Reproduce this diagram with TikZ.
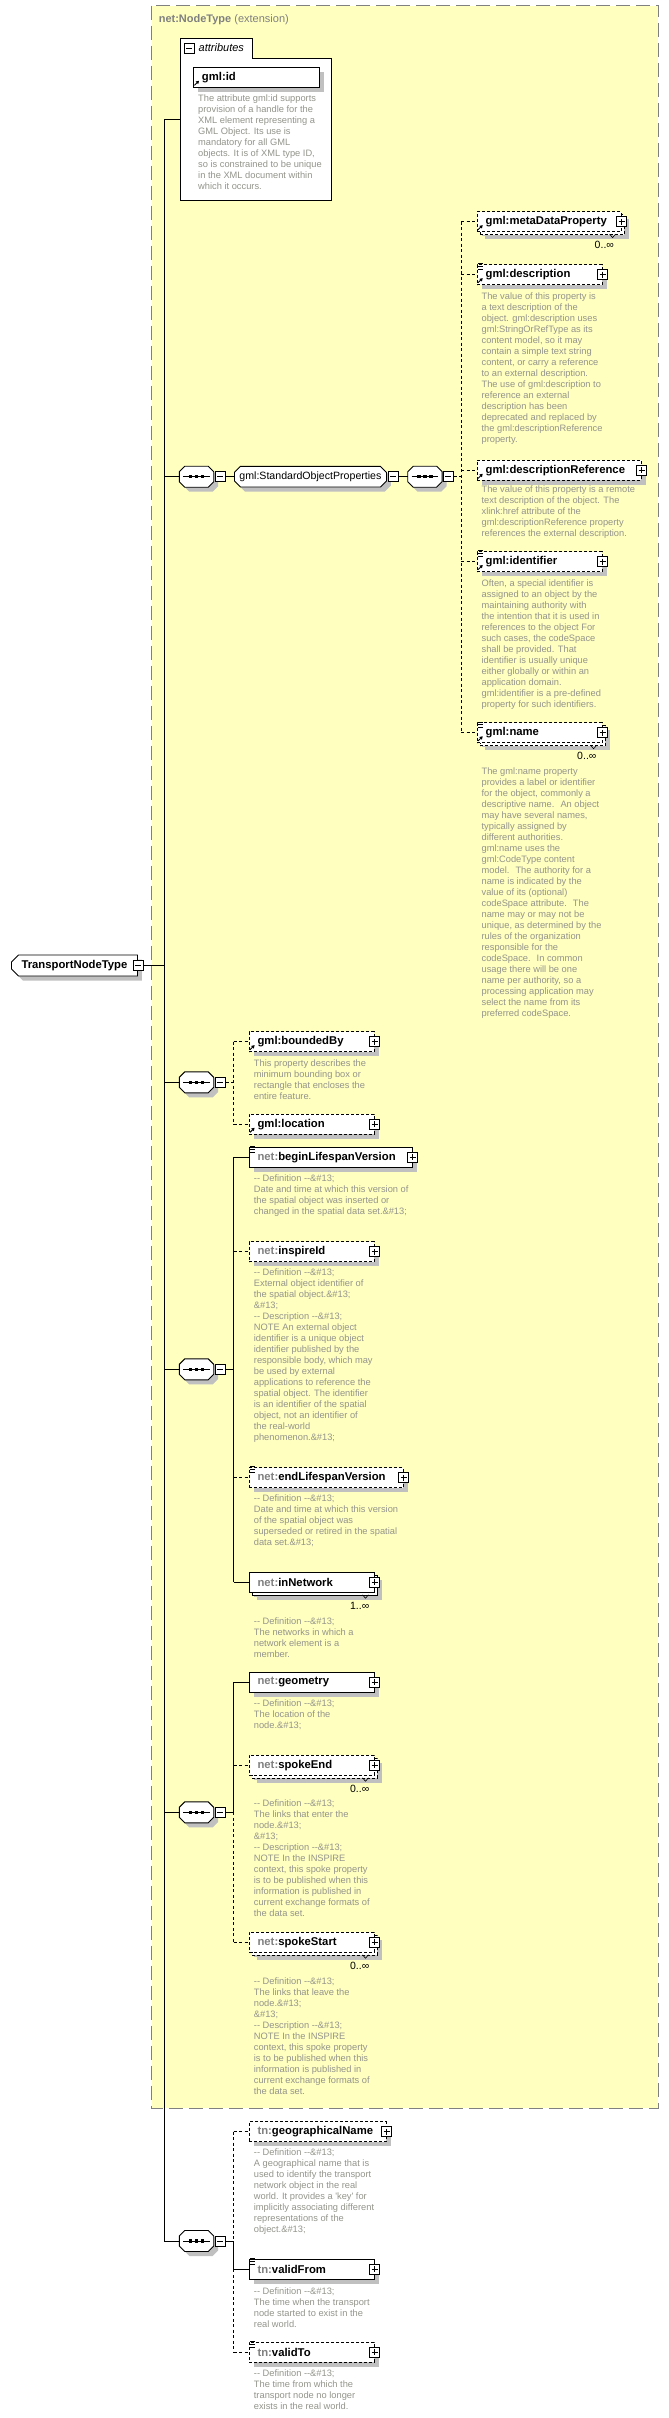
\documentclass[tikz,border=0pt]{standalone}
\usepackage{fontspec}
\setmainfont{Liberation Sans}
\usetikzlibrary{shapes.misc,shadows,arrows.meta}

\definecolor{schemayellow}{RGB}{255,255,192}
\definecolor{framegray}{RGB}{128,128,128}
\definecolor{notegray}{RGB}{148,148,140}
\definecolor{prefixgray}{RGB}{128,128,128}
\definecolor{shadowgray}{RGB}{192,192,192}

\newcommand\namefont{\bfseries\fontsize{11.3}{13}\selectfont}
\newcommand\notefont{\fontsize{9.3}{11}\selectfont}
\newcommand\pfx[1]{\textcolor{prefixgray}{#1}}
% sequence symbol drawn round an empty node
\newcommand\seqsymbol[1]{%
  \fill[shadowgray, transform canvas={shift={(4.5pt,-4.5pt)}}] ([xshift=5.5pt]#1.north west) -- ([xshift=-5.5pt]#1.north east)
    -- ([yshift=-5.5pt]#1.north east) -- ([yshift=5.5pt]#1.south east) -- ([xshift=-5.5pt]#1.south east)
    -- ([xshift=5.5pt]#1.south west) -- ([yshift=5.5pt]#1.south west) -- ([yshift=-5.5pt]#1.north west) -- cycle;
  \draw[line width=0.9pt, fill=white] ([xshift=5.5pt]#1.north west) -- ([xshift=-5.5pt]#1.north east)
    -- ([yshift=-5.5pt]#1.north east) -- ([yshift=5.5pt]#1.south east) -- ([xshift=-5.5pt]#1.south east)
    -- ([xshift=5.5pt]#1.south west) -- ([yshift=5.5pt]#1.south west) -- ([yshift=-5.5pt]#1.north west) -- cycle;
  \draw[line width=0.8pt] ([xshift=4pt]#1.west) -- ([xshift=-4pt]#1.east);
  \foreach \d in {-6,0,6}
    \fill ([xshift=\d pt]#1.center) +(-1.6pt,-1.6pt) rectangle +(1.6pt,1.6pt);
}

\tikzset{
  conn/.style={line width=0.9pt},
  optline/.style={line width=0.9pt, dash pattern=on 3pt off 2.5pt},
  boxshadow/.style={drop shadow={shadow xshift=#1, shadow yshift=-#1, fill=shadowgray, opacity=1}},
  elem/.style={draw, fill=white, line width=0.9pt, anchor=west, minimum height=20pt,
    inner xsep=8.5pt, inner ysep=0pt, text width=#1, align=left, font=\namefont, boxshadow=4.5pt},
  optional/.style={dash pattern=on 3pt off 2pt},
  stacked/.style={boxshadow=7.5pt, copy shadow={shadow xshift=3pt, shadow yshift=-3pt, fill=white, draw=black}},
  compositor/.style={anchor=west, minimum width=34pt, minimum height=20.6pt, inner sep=0pt},
  modelgroup/.style={chamfered rectangle, chamfered rectangle xsep=3pt, chamfered rectangle ysep=3pt,
    draw, fill=white, line width=0.9pt, anchor=west, minimum width=152pt, minimum height=20.6pt,
    inner sep=0pt, font=\fontsize{10.6}{13}\selectfont, boxshadow=4.5pt},
  typebox/.style={chamfered rectangle, chamfered rectangle corners={north west,south west},
    chamfered rectangle xsep=3.5pt, chamfered rectangle ysep=3.5pt,
    draw, fill=white, line width=0.9pt, anchor=west, minimum width=126pt, minimum height=21pt,
    inner sep=0pt, font=\namefont, boxshadow=4.5pt},
  minusbox/.style={draw, fill=white, line width=0.8pt, minimum size=10pt, inner sep=0pt,
    path picture={\draw[line width=0.8pt] ([xshift=2pt]path picture bounding box.west) -- ([xshift=-2pt]path picture bounding box.east);}},
  plusbox/.style={draw, fill=white, line width=0.8pt, minimum size=10pt, inner sep=0pt,
    path picture={\draw[line width=0.8pt] ([xshift=2pt]path picture bounding box.west) -- ([xshift=-2pt]path picture bounding box.east)
      ([yshift=-2pt]path picture bounding box.north) -- ([yshift=2pt]path picture bounding box.south);}},
  note/.style={anchor=north west, inner sep=0pt, align=left, font=\notefont, text=notegray},
  mult/.style={anchor=east, inner sep=0pt, font=\fontsize{10.5}{12}\selectfont}
}

\begin{document}
\begin{tikzpicture}[x=1pt, y=-1pt]
  \useasboundingbox (0,0) rectangle (669,2418);

  % extension frame
  \draw[framegray, fill=schemayellow, line width=1pt, dash pattern=on 14pt off 6pt] (151.7,5.7) rectangle (658,2108.3);
  \node[anchor=west, inner sep=0pt, text=prefixgray, font=\fontsize{11}{13}\selectfont] (title) at (158.6,19.5) {\textbf{net:NodeType} (extension)};

  % attributes
  \draw[line width=0.9pt, fill=white] (180,38.8) -- (252,38.8) -- (252,58) -- (331,58) -- (331,200.7) -- (180,200.7) -- cycle;
  \coordinate (attrs) at (180,119.8);
  \node[minusbox] (attrminus) at (189,48.3) {};
  \node[anchor=west, inner sep=0pt, font=\itshape\fontsize{11}{13}\selectfont] (attrlabel) at (198.5,48) {attributes};
  \node[elem=109] (gmlid) at (193,77.3) {gml:id};
  \node[note] (gmlidnote) at (198,94.5) {The attribute gml:id supports\\provision of a handle for the\\XML element representing a\\GML Object. Its use is\\mandatory for all GML\\objects. It is of XML type ID,\\so is constrained to be unique\\in the XML document within\\which it occurs.};

  % the type
  \node[typebox] (tnt) at (11,965.5) {TransportNodeType};
  \node[minusbox] (tntminus) at (tnt.east) {};
  \coordinate (spinetop) at (164.3,119.8);
  \coordinate (spinebot) at (164.3,2241);
  \draw[conn] (spinetop) -- (spinebot);
  \draw[conn] (spinetop) -- (attrs);
  \draw[conn] (tntminus.east) -- (tntminus.east -| spinetop);

  % gml:StandardObjectProperties
  \node[compositor] (seqa) at (179.3,476.7) {};
  \seqsymbol{seqa}
  \node[minusbox, anchor=west] (seqaminus) at ([xshift=1pt]seqa.east) {};
  \node[modelgroup] (sop) at (234,476.7) {gml:StandardObjectProperties};
  \node[minusbox, anchor=west] (sopminus) at ([xshift=0.7pt]sop.east) {};
  \node[compositor] (seqb) at (407.7,476.7) {};
  \seqsymbol{seqb}
  \node[minusbox, anchor=west] (seqbminus) at ([xshift=0.6pt]seqb.east) {};
  \coordinate (sopbar) at (461.2,476.7);
  \draw[conn] (seqa.west -| spinetop) -- (seqa.west);
  \draw[conn] (seqaminus.east) -- (sop.west);
  \draw[conn] (sopminus.east) -- (seqb.west);
  \draw[optline] (seqbminus.east) -- (sopbar);

  \node[elem=127, optional, stacked] (metadata) at (476.7,221.7) {gml:metaDataProperty};
  \node[mult] (metadatamult) at ([xshift=-7.5pt,yshift=-12.5pt]metadata.south east) {0..∞};
  \node[elem=108, optional] (desc) at (476.7,274.7) {gml:description};
  \node[note] (descnote) at (481.4,293) {The value of this property is\\a text description of the\\object. gml:description uses\\gml:StringOrRefType as its\\content model, so it may\\contain a simple text string\\content, or carry a reference\\to an external description.\\The use of gml:description to\\reference an external\\description has been\\deprecated and replaced by\\the gml:descriptionReference\\property.};
  \node[elem=147, optional] (descref) at (476.7,470.3) {gml:descriptionReference};
  \node[note] (descrefnote) at (481.4,485.3) {The value of this property is a remote\\text description of the object. The\\xlink:href attribute of the\\gml:descriptionReference property\\references the external description.};
  \node[elem=108, optional] (ident) at (476.7,561.5) {gml:identifier};
  \node[note] (identnote) at (481.4,579.5) {Often, a special identifier is\\assigned to an object by the\\maintaining authority with\\the intention that it is used in\\references to the object For\\such cases, the codeSpace\\shall be provided. That\\identifier is usually unique\\either globally or within an\\application domain.\\gml:identifier is a pre-defined\\property for such identifiers.};
  \node[elem=108, optional, stacked] (gmlname) at (476.7,732.8) {gml:name};
  \node[mult] (gmlnamemult) at ([xshift=-6pt,yshift=-13pt]gmlname.south east) {0..∞};
  \node[note] (gmlnamenote) at (481.4,767.2) {The gml:name property\\provides a label or identifier\\for the object, commonly a\\descriptive name.~ An object\\may have several names,\\typically assigned by\\different authorities.\\gml:name uses the\\gml:CodeType content\\model.~ The authority for a\\name is indicated by the\\value of its (optional)\\codeSpace attribute.~ The\\name may or may not be\\unique, as determined by the\\rules of the organization\\responsible for the\\codeSpace.~ In common\\usage there will be one\\name per authority, so a\\processing application may\\select the name from its\\preferred codeSpace.};
  \foreach \n in {metadata,desc,descref,ident,gmlname}
    \draw[optline] (\n.west -| sopbar) -- (\n.west);
  \draw[optline] (metadata.west -| sopbar) -- (gmlname.west -| sopbar);

  % boundedBy / location
  \node[compositor] (seqc) at (179.3,1082.3) {};
  \seqsymbol{seqc}
  \node[minusbox, anchor=west] (seqcminus) at ([xshift=1pt]seqc.east) {};
  \coordinate (barc) at (233.5,1082.3);
  \draw[conn] (seqc.west -| spinetop) -- (seqc.west);
  \draw[optline] (seqcminus.east) -- (barc);
  \node[elem=108, optional] (bounded) at (248.6,1041.7) {gml:boundedBy};
  \node[note] (boundednote) at (253.7,1059.5) {This property describes the\\minimum bounding box or\\rectangle that encloses the\\entire feature.};
  \node[elem=108, optional] (location) at (248.6,1124.3) {gml:location};
  \draw[optline] (bounded.west -| barc) -- (location.west -| barc);
  \foreach \n in {bounded,location}
    \draw[optline] (\n.west -| barc) -- (\n.west);

  % net:NetworkElement content
  \node[compositor] (seqd) at (179.3,1369.3) {};
  \seqsymbol{seqd}
  \node[minusbox, anchor=west] (seqdminus) at ([xshift=1pt]seqd.east) {};
  \coordinate (bard) at (233.5,1369.3);
  \draw[conn] (seqd.west -| spinetop) -- (seqd.west);
  \draw[conn] (seqdminus.east) -- (bard);
  \node[elem=146] (beginlife) at (248.6,1157.3) {\pfx{net:}beginLifespanVersion};
  \node[note] (beginlifenote) at (253.7,1174.8) {-{}- Definition -{}-\&\#13;\\Date and time at which this version of\\the spatial object was inserted or\\changed in the spatial data set.\&\#13;};
  \node[elem=108, optional] (inspire) at (248.6,1251.7) {\pfx{net:}inspireId};
  \node[note] (inspirenote) at (253.7,1268.8) {-{}- Definition -{}-\&\#13;\\External object identifier of\\the spatial object.\&\#13;\\\&\#13;\\-{}- Description -{}-\&\#13;\\NOTE An external object\\identifier is a unique object\\identifier published by the\\responsible body, which may\\be used by external\\applications to reference the\\spatial object. The identifier\\is an identifier of the spatial\\object, not an identifier of\\the real-world\\phenomenon.\&\#13;};
  \node[elem=137, optional] (endlife) at (248.6,1477.5) {\pfx{net:}endLifespanVersion};
  \node[note] (endlifenote) at (253.7,1494.8) {-{}- Definition -{}-\&\#13;\\Date and time at which this version\\of the spatial object was\\superseded or retired in the spatial\\data set.\&\#13;};
  \node[elem=108, stacked] (innet) at (248.6,1582.3) {\pfx{net:}inNetwork};
  \node[mult] (innetmult) at ([xshift=-5pt,yshift=-13.5pt]innet.south east) {1..∞};
  \node[note] (innetnote) at (253.7,1617.2) {-{}- Definition -{}-\&\#13;\\The networks in which a\\network element is a\\member.};
  \draw[conn] (beginlife.west -| bard) -- (innet.west -| bard);
  \draw[conn] (beginlife.west -| bard) -- (beginlife.west);
  \draw[optline] (inspire.west -| bard) -- (inspire.west);
  \draw[optline] (endlife.west -| bard) -- (endlife.west);
  \draw[conn] (innet.west -| bard) -- (innet.west);

  % net:NodeType content
  \node[compositor] (seqe) at (179.3,1812.3) {};
  \seqsymbol{seqe}
  \node[minusbox, anchor=west] (seqeminus) at ([xshift=1pt]seqe.east) {};
  \coordinate (bare) at (233.5,1812.3);
  \draw[conn] (seqe.west -| spinetop) -- (seqe.west);
  \draw[conn] (seqeminus.east) -- (bare);
  \node[elem=108] (geometry) at (248.6,1682.3) {\pfx{net:}geometry};
  \node[note] (geometrynote) at (253.7,1699.8) {-{}- Definition -{}-\&\#13;\\The location of the\\node.\&\#13;};
  \node[elem=108, optional, stacked] (spokeend) at (248.6,1765.3) {\pfx{net:}spokeEnd};
  \node[mult] (spokeendmult) at ([xshift=-5pt,yshift=-13.5pt]spokeend.south east) {0..∞};
  \node[note] (spokeendnote) at (253.7,1799.8) {-{}- Definition -{}-\&\#13;\\The links that enter the\\node.\&\#13;\\\&\#13;\\-{}- Description -{}-\&\#13;\\NOTE In the INSPIRE\\context, this spoke property\\is to be published when this\\information is published in\\current exchange formats of\\the data set.};
  \node[elem=108, optional, stacked] (spokestart) at (248.6,1942.3) {\pfx{net:}spokeStart};
  \node[mult] (spokestartmult) at ([xshift=-5pt,yshift=-13.5pt]spokestart.south east) {0..∞};
  \node[note] (spokestartnote) at (253.7,1977.2) {-{}- Definition -{}-\&\#13;\\The links that leave the\\node.\&\#13;\\\&\#13;\\-{}- Description -{}-\&\#13;\\NOTE In the INSPIRE\\context, this spoke property\\is to be published when this\\information is published in\\current exchange formats of\\the data set.};
  \draw[conn] (geometry.west -| bare) -- (bare);
  \draw[optline] (bare) -- (spokestart.west -| bare);
  \draw[conn] (geometry.west -| bare) -- (geometry.west);
  \draw[optline] (spokeend.west -| bare) -- (spokeend.west);
  \draw[optline] (spokestart.west -| bare) -- (spokestart.west);

  % tn:TransportObject content
  \node[compositor] (seqf) at (179.3,2241) {};
  \seqsymbol{seqf}
  \node[minusbox, anchor=west] (seqfminus) at ([xshift=1pt]seqf.east) {};
  \coordinate (barf) at (233.5,2241);
  \draw[conn] (seqf.west -| spinetop) -- (seqf.west);
  \draw[conn] (seqfminus.east) -- (barf);
  \node[elem=120, optional] (geoname) at (248.6,2131.7) {\pfx{tn:}geographicalName};
  \node[note] (geonamenote) at (253.7,2148.8) {-{}- Definition -{}-\&\#13;\\A geographical name that is\\used to identify the transport\\network object in the real\\world. It provides a \textquotesingle key\textquotesingle{} for\\implicitly associating different\\representations of the\\object.\&\#13;};
  \node[elem=108] (validfrom) at (248.6,2269.3) {\pfx{tn:}validFrom};
  \node[note] (validfromnote) at (253.7,2287.2) {-{}- Definition -{}-\&\#13;\\The time when the transport\\node started to exist in the\\real world.};
  \node[elem=108, optional] (validto) at (248.6,2352.3) {\pfx{tn:}validTo};
  \node[note] (validtonote) at (253.7,2369.8) {-{}- Definition -{}-\&\#13;\\The time from which the\\transport node no longer\\exists in the real world.};
  \draw[optline] (geoname.west -| barf) -- (barf);
  \draw[conn] (barf) -- (validfrom.west -| barf);
  \draw[optline] (validfrom.west -| barf) -- (validto.west -| barf);
  \draw[optline] (geoname.west -| barf) -- (geoname.west);
  \draw[conn] (validfrom.west -| barf) -- (validfrom.west);
  \draw[optline] (validto.west -| barf) -- (validto.west);

  % expand boxes and icons
  \foreach \n in {metadata,desc,descref,ident,gmlname,bounded,location,beginlife,inspire,endlife,innet,geometry,spokeend,spokestart,geoname,validfrom,validto}
    \node[plusbox] (\n-plus) at (\n.east) {};
  \foreach \n in {metadata,gmlname,innet,spokeend,spokestart}
    \draw[line width=0.6pt] ([xshift=-12pt,yshift=-2pt]\n.south east) -- ++(3,3.5) -- ++(3,-3.5);
  \foreach \n in {desc,ident,gmlname,beginlife,endlife,validfrom,validto}
    \foreach \dy in {0.5,-2.3,-5}
      \draw[line width=0.7pt] ([xshift=1.2pt,yshift=\dy pt]\n.north west) -- ++(5.5,0);
  \foreach \n in {gmlid,metadata,desc,descref,ident,gmlname,bounded,location}
    \draw[line width=0.9pt, -{Triangle[length=3pt,width=3.5pt]}] ([xshift=1.4pt,yshift=2.4pt]\n.south west) -- ++(4.6,-4.6);
\end{tikzpicture}
\end{document}
